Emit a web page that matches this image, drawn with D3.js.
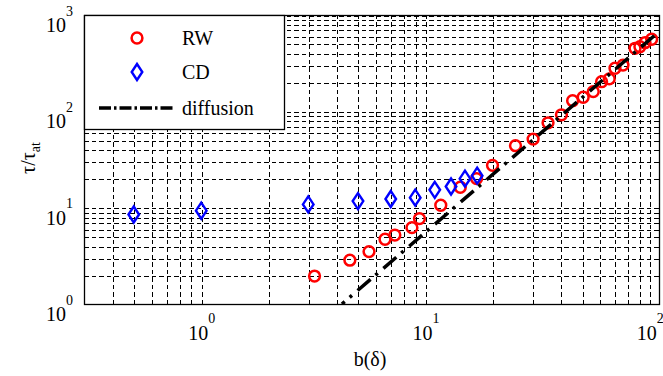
<!DOCTYPE html>
<html>
<head>
<meta charset="utf-8">
<script src="https://cdn.jsdelivr.net/npm/d3@7"></script>
<style>
  body { margin: 0; background: #fff; }
</style>
</head>
<body>
<svg id="chart" width="663" height="376" font-family="Liberation Serif"></svg>
<script>
// ---- data ----
const rwB   = [3.2, 4.6, 5.6, 6.6, 7.3, 8.7, 9.4, 11.7, 14.3, 16.9, 19.9, 25.2, 30.2, 35.2, 40.4, 45.3, 50.5, 56, 61, 66, 70, 76, 86, 90.4, 95.3, 102];
const rwTau = [1.95, 2.85, 3.5, 4.7, 5.2, 6.2, 7.7, 10.6, 16.3, 20, 27.5, 44, 51.5, 76, 92, 129, 140, 160, 203, 217, 280, 302, 451, 468, 516, 560];
const cdB   = [0.5, 1, 3, 5, 7, 9, 11, 13, 15, 17];
const cdTau = [8.5, 9.3, 10.8, 11.7, 12.3, 12.7, 15.3, 16.6, 20, 21.5];
const diffB   = [4.24, 110];
const diffTau = [1, 672];
const xMajor = [1, 10, 100];
const yMajor = [1, 10, 100, 1000];
const xGrid = [0.4,0.5,0.6,0.7,0.8,0.9,1,2,3,4,5,6,7,8,9,10,20,30,40,50,60,70,80,90,100];
const yGrid = [2,3,4,5,6,7,8,9,10,20,30,40,50,60,70,80,90,100,200,300,400,500,600,700,800,900,1000];
const legendLabels = ["RW", "CD", "diffusion"];

// ---- layout ----
const FONT = "Liberation Serif";
const L = 84, R = 659, T = 15, B = 304;
const svg = d3.select("#chart");
const x = d3.scaleLog().domain([0.3, 110]).range([L, R]);
const y = d3.scaleLog().domain([1, 1000]).range([B, T]);

svg.append("defs").append("clipPath").attr("id", "clip")
  .append("rect").attr("x", L).attr("y", T).attr("width", R - L).attr("height", B - T);

// grid via axes
const gx = svg.append("g").attr("transform", `translate(0.5,${B})`)
  .call(d3.axisBottom(x).tickValues(xGrid).tickSize(-(B - T)).tickFormat(""));
gx.select(".domain").remove();
gx.selectAll("line").attr("stroke", "#000").attr("stroke-width", 1)
  .attr("stroke-dasharray", "4.5,3").attr("shape-rendering", "crispEdges");

const gy = svg.append("g").attr("transform", `translate(${L},0.5)`)
  .call(d3.axisLeft(y).tickValues(yGrid).tickSize(-(R - L)).tickFormat(""));
gy.select(".domain").remove();
gy.selectAll("line").attr("stroke", "#000").attr("stroke-width", 1)
  .attr("stroke-dasharray", "4.5,3").attr("shape-rendering", "crispEdges");

// tick labels (10^n) via axes
const xl = svg.append("g").attr("transform", `translate(0,${B})`)
  .call(d3.axisBottom(x).tickValues(xMajor).tickSize(0).tickFormat(""))
  .attr("font-family", FONT);
xl.select(".domain").remove();
xl.selectAll(".tick").each(function(d) {
  const t = d3.select(this).append("text")
    .attr("y", 35.5).attr("fill", "#000").attr("text-anchor", "middle")
    .attr("font-family", FONT).attr("font-size", 20);
  t.append("tspan").text("10");
  t.append("tspan").attr("dy", -17).attr("font-size", 14).text(Math.round(Math.log10(d)));
});

const yl = svg.append("g").attr("transform", `translate(${L},0)`)
  .call(d3.axisLeft(y).tickValues(yMajor).tickSize(0).tickFormat(""))
  .attr("font-family", FONT);
yl.select(".domain").remove();
yl.selectAll(".tick").each(function(d) {
  const t = d3.select(this).append("text")
    .attr("x", -11).attr("y", 16.5).attr("dy", 0).attr("fill", "#000").attr("text-anchor", "end")
    .attr("font-family", FONT).attr("font-size", 20);
  t.append("tspan").text("10");
  t.append("tspan").attr("dy", -16.5).attr("font-size", 14).text(Math.round(Math.log10(d)));
});

// axes box
svg.append("rect").attr("x", L + 0.5).attr("y", T + 0.5).attr("width", R - L).attr("height", B - T)
  .attr("fill", "none").attr("stroke", "#000").attr("stroke-width", 1.3);

const plot = svg.append("g").attr("clip-path", "url(#clip)");

// RW circles
plot.selectAll("circle.rw").data(rwB).enter().append("circle")
  .attr("class", "rw")
  .attr("cx", (d) => x(d)).attr("cy", (d, i) => y(rwTau[i])).attr("r", 5.4)
  .attr("fill", "none").attr("stroke", "#ff0000").attr("stroke-width", 2.5);

// CD diamonds
const diamond = (cx, cy) => `M${cx},${cy - 8}L${cx + 5.3},${cy}L${cx},${cy + 8}L${cx - 5.3},${cy}Z`;
plot.selectAll("path.cd").data(cdB).enter().append("path")
  .attr("class", "cd")
  .attr("d", (d, i) => diamond(x(d), y(cdTau[i])))
  .attr("fill", "none").attr("stroke", "#0000ff").attr("stroke-width", 2.4);

// diffusion line
const line = d3.line().x((d) => x(d[0])).y((d) => y(d[1]));
plot.append("path").datum(diffB.map((b, i) => [b, diffTau[i]]))
  .attr("d", line).attr("fill", "none").attr("stroke", "#000")
  .attr("stroke-width", 3.5).attr("stroke-dasharray", "17,6.5,3,7.5").attr("stroke-dashoffset", 13.3);

// legend
const lg = svg.append("g");
lg.append("rect").attr("x", L + 0.5).attr("y", T + 0.5).attr("width", 200).attr("height", 114)
  .attr("fill", "#fff").attr("stroke", "#000").attr("stroke-width", 1.3);
const ly = [38, 72, 108];
lg.append("circle").attr("cx", 137).attr("cy", ly[0]).attr("r", 5.4)
  .attr("fill", "none").attr("stroke", "#ff0000").attr("stroke-width", 2.5);
lg.append("path").attr("d", diamond(137, ly[1]))
  .attr("fill", "none").attr("stroke", "#0000ff").attr("stroke-width", 2.4);
lg.append("line").attr("x1", 99).attr("x2", 173).attr("y1", ly[2]).attr("y2", ly[2])
  .attr("stroke", "#000").attr("stroke-width", 3.5).attr("stroke-dasharray", "12,3,2.5,3");
lg.selectAll("text").data(legendLabels).enter().append("text")
  .attr("x", 182).attr("y", (d, i) => ly[i] + 7)
  .attr("font-family", FONT).attr("font-size", 20).attr("fill", "#000").text((d) => d);

// axis titles
svg.append("text").attr("x", 370).attr("y", 366).attr("text-anchor", "middle")
  .attr("font-family", FONT).attr("font-size", 20).text("b(δ)");
const yt = svg.append("text").attr("transform", "translate(35,158) rotate(-90)")
  .attr("text-anchor", "middle").attr("font-family", FONT).attr("font-size", 20);
yt.append("tspan").text("τ/τ");
yt.append("tspan").attr("dy", 5).attr("font-size", 14).text("at");
</script>
</body>
</html>
